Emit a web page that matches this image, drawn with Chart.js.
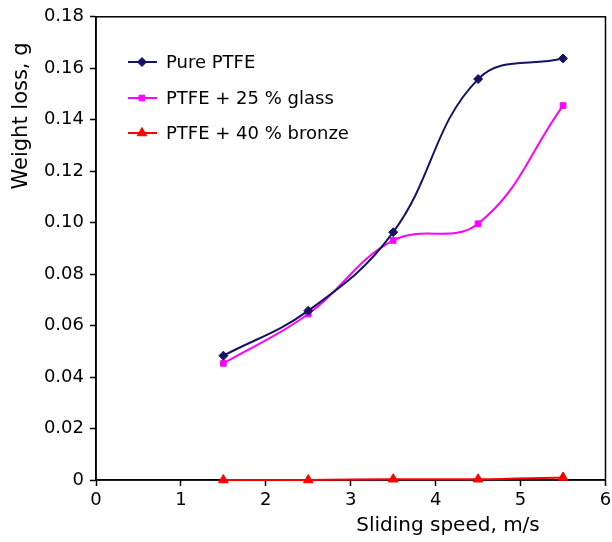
<!DOCTYPE html>
<html>
<head>
    <title>Weight loss vs sliding speed</title>
    <script src="https://cdn.jsdelivr.net/npm/chart.js"></script>
    <style>
        html, body {
            margin: 0;
            padding: 0;
            background: #fff;
        }
        #wrap {
            width: 612px;
            height: 542px;
        }
    </style>
</head>
<body>
    <div id="wrap">
        <canvas id="wearChart" width="612" height="542"></canvas>
    </div>

    <script>
        // data
        const speeds = [1.5, 2.5, 3.5, 4.5, 5.5];
        const purePTFE = [0.0483, 0.0658, 0.0963, 0.1558, 0.1638];
        const glassPTFE = [0.0453, 0.0645, 0.0931, 0.0996, 0.1455];
        const bronzePTFE = [0.0000, 0.0000, 0.0003, 0.0003, 0.0010];

        const seriesNames = ["Pure PTFE", "PTFE + 25 % glass", "PTFE + 40 % bronze"];
        const seriesColors = ["#141464", "#ff00ff", "#ff0000"];
        const seriesMarkers = ["rectRot", "rect", "triangle"];
        const markerSizes = [4.5, 4, 5.5];

        const xTitle = "Sliding speed, m/s";
        const yTitle = "Weight loss, g";
        const FONT = "'DejaVu Sans', sans-serif";

        function toPoints(values) {
            return speeds.map((x, i) => ({ x: x, y: values[i] }));
        }

        const seriesValues = [purePTFE, glassPTFE, bronzePTFE];

        const datasets = seriesValues.map((vals, i) => ({
            label: seriesNames[i],
            data: toPoints(vals),
            borderColor: seriesColors[i],
            backgroundColor: seriesColors[i],
            borderWidth: 2,
            pointStyle: seriesMarkers[i],
            pointRadius: markerSizes[i],
            pointBorderWidth: 1,
            tension: 0.4,
            clip: false,
            fill: false
        }));

        // box around the plot, axis titles and the legend inside the plot
        const decorations = {
            id: "decorations",
            beforeDatasetsDraw(chart) {
                const ctx = chart.ctx;
                const area = chart.chartArea;
                ctx.save();
                ctx.strokeStyle = "#000";
                ctx.lineWidth = 1.5;
                ctx.strokeRect(area.left, area.top, area.right - area.left, area.bottom - area.top);
                ctx.restore();
            },
            afterDraw(chart) {
                const ctx = chart.ctx;
                ctx.save();
                ctx.fillStyle = "#000";
                ctx.font = "20px " + FONT;
                ctx.textAlign = "center";
                ctx.textBaseline = "middle";
                ctx.fillText(xTitle, 448, 526);

                ctx.save();
                ctx.translate(22, 116);
                ctx.rotate(-Math.PI / 2);
                ctx.font = "21px " + FONT;
                ctx.fillText(yTitle, 0, 0);
                ctx.restore();

                // legend
                ctx.font = "18px " + FONT;
                ctx.textAlign = "left";
                const rowsY = [62, 98, 133];
                seriesNames.forEach((name, i) => {
                    const y = rowsY[i];
                    ctx.strokeStyle = seriesColors[i];
                    ctx.lineWidth = 2;
                    ctx.beginPath();
                    ctx.moveTo(128, y);
                    ctx.lineTo(157, y);
                    ctx.stroke();
                    ctx.fillStyle = seriesColors[i];
                    ctx.lineWidth = 1;
                    Chart.helpers.drawPoint(ctx, {
                        pointStyle: seriesMarkers[i],
                        radius: markerSizes[i],
                        rotation: 0,
                        borderWidth: 1
                    }, 142, y);
                    ctx.fillStyle = "#000";
                    ctx.fillText(name, 166, y + 1);
                });
                ctx.restore();
            }
        };

        new Chart(document.getElementById("wearChart").getContext("2d"), {
            type: "line",
            data: { datasets: datasets },
            options: {
                responsive: false,
                animation: false,
                layout: {
                    padding: { left: 0, top: 16, right: 5, bottom: 0 }
                },
                plugins: {
                    legend: { display: false },
                    tooltip: { enabled: false }
                },
                scales: {
                    x: {
                        type: "linear",
                        min: 0,
                        max: 6,
                        afterFit(scale) {
                            scale.height = 62;
                            scale.paddingLeft = 0;
                            scale.paddingRight = 0;
                        },
                        ticks: {
                            stepSize: 1,
                            color: "#000",
                            padding: 4,
                            font: { family: FONT, size: 18 }
                        },
                        grid: {
                            drawOnChartArea: false,
                            drawTicks: true,
                            tickLength: 6,
                            tickColor: "#000",
                            tickWidth: 1.5
                        },
                        border: { color: "#000", width: 1.5 }
                    },
                    y: {
                        min: 0,
                        max: 0.18,
                        afterFit(scale) { scale.width = 96; },
                        ticks: {
                            stepSize: 0.02,
                            color: "#000",
                            padding: 6,
                            font: { family: FONT, size: 18 },
                            callback: v => (Math.abs(v) < 1e-9 ? "0" : v.toFixed(2))
                        },
                        grid: {
                            drawOnChartArea: false,
                            drawTicks: true,
                            tickLength: 6,
                            tickColor: "#000",
                            tickWidth: 1.5
                        },
                        border: { color: "#000", width: 1.5 }
                    }
                }
            },
            plugins: [decorations]
        });
    </script>
</body>
</html>
